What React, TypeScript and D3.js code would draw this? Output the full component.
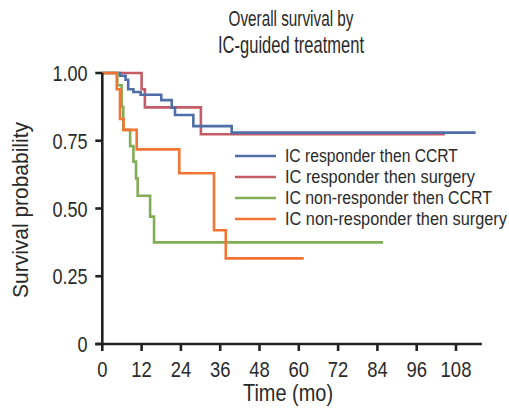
import React, { useLayoutEffect, useRef, useState } from "react";
import * as d3 from "d3";

// Kaplan-Meier step data: [time (months), survival]
const blueTimes = [0, 5.4, 7.1, 7.9, 9.5, 11.7, 18.0, 21.2, 22.2, 27.8, 39.5];
const blueSurv = [1.0, 0.99, 0.975, 0.94, 0.93, 0.92, 0.9, 0.872, 0.845, 0.804, 0.78];
const blueEnd = 114;

const redTimes = [0, 12.0, 13.0, 30.1];
const redSurv = [1.0, 0.94, 0.873, 0.774];
const redEnd = 104.6;

const greenTimes = [0, 4.6, 5.9, 6.4, 8.5, 9.5, 10.3, 10.8, 14.6, 15.8];
const greenSurv = [1.0, 0.955, 0.875, 0.79, 0.73, 0.673, 0.611, 0.547, 0.47, 0.375];
const greenEnd = 85.7;

const orangeTimes = [0, 4.4, 5.4, 6.5, 10.5, 23.5, 34.1, 37.7];
const orangeSurv = [1.0, 0.94, 0.83, 0.79, 0.718, 0.63, 0.42, 0.316];
const orangeEnd = 61.5;

const seriesNames = [
  "IC responder then CCRT",
  "IC responder then surgery",
  "IC non-responder then CCRT",
  "IC non-responder then surgery",
];
const seriesColors = ["#4f6da6", "#c45c68", "#82ad57", "#f47434"];
const legendWidths = [173, 190, 207, 222];

const xTicks = [0, 12, 24, 36, 48, 60, 72, 84, 96, 108];
const yTicks = [0, 0.25, 0.5, 0.75, 1.0];
const yTickLabels = ["0", "0.25", "0.50", "0.75", "1.00"];

const titleLines = ["Overall survival by", "IC-guided treatment"];
const titleWidths = [125, 146];

const FONT = "'Liberation Sans', Arial, sans-serif";
const TEXT = "#2a2a2a";

// Text drawn in a regular face, then horizontally scaled so its width
// matches the condensed face of the reference.
function NText(props: {
  x: number;
  y: number;
  size: number;
  anchor?: string;
  sx?: number;
  len?: number;
  rotate?: number;
  children: React.ReactNode;
}) {
  const { x, y, size, anchor = "start", sx = 0.82, len, rotate = 0, children } = props;
  const ref = useRef<SVGTextElement>(null);
  const [scale, setScale] = useState(sx);
  useLayoutEffect(() => {
    if (len && ref.current) {
      const natural = ref.current.getComputedTextLength();
      if (natural > 0) setScale(len / natural);
    }
  }, [len, children, size]);
  return (
    <g transform={`translate(${x},${y}) rotate(${rotate}) scale(${scale},1)`}>
      <text
        ref={ref}
        x={0}
        y={0}
        textAnchor={anchor}
        fontFamily={FONT}
        fontSize={size}
        fill={TEXT}
      >
        {children}
      </text>
    </g>
  );
}

export default function App() {
  const W = 509;
  const H = 411;
  const x = d3.scaleLinear().domain([0, 108]).range([102.3, 456]);
  const y = d3.scaleLinear().domain([0, 1]).range([344, 73]);
  const xMax = 115.9;

  const makeSeries = (t: number[], s: number[], end: number) => {
    const pts: [number, number][] = t.map((tt, i) => [tt, s[i]]);
    pts.push([end, s[s.length - 1]]);
    return pts;
  };
  const series = [
    makeSeries(blueTimes, blueSurv, blueEnd),
    makeSeries(redTimes, redSurv, redEnd),
    makeSeries(greenTimes, greenSurv, greenEnd),
    makeSeries(orangeTimes, orangeSurv, orangeEnd),
  ];
  const line = d3
    .line<[number, number]>()
    .x((d) => x(d[0]))
    .y((d) => y(d[1]))
    .curve(d3.curveStepAfter);

  const axisColor = "#222";
  const legendY = [156, 177, 198, 219];

  return (
    <svg
      width={W}
      height={H}
      style={{ position: "absolute", left: 0, top: 0, background: "#fff" }}
    >
      {/* title */}
      {titleLines.map((t, i) => (
        <NText key={t} x={291} y={26 + i * 27} size={23} anchor="middle" len={titleWidths[i]}>
          {t}
        </NText>
      ))}

      {/* curves */}
      {[1, 0, 2, 3].map((i) => (
        <path
          key={i}
          d={line(series[i]) || ""}
          fill="none"
          stroke={seriesColors[i]}
          strokeWidth={2.6}
        />
      ))}

      {/* axes */}
      <line x1={x(0)} x2={x(0)} y1={y(0)} y2={y(1)} stroke={axisColor} strokeWidth={2.6} />
      <line x1={x(0) - 7} x2={x(xMax)} y1={y(0)} y2={y(0)} stroke={axisColor} strokeWidth={2.6} />
      {yTicks.map((v, i) => (
        <g key={"y" + i}>
          <line x1={x(0) - 7} x2={x(0)} y1={y(v)} y2={y(v)} stroke={axisColor} strokeWidth={2.6} />
          <NText x={87.5} y={y(v) + 8} size={22} anchor="end" sx={0.82}>
            {yTickLabels[i]}
          </NText>
        </g>
      ))}
      {xTicks.map((v) => (
        <g key={"x" + v}>
          <line x1={x(v)} x2={x(v)} y1={y(0)} y2={y(0) + 7} stroke={axisColor} strokeWidth={2.6} />
          <NText x={x(v)} y={y(0) + 32.5} size={22.5} anchor="middle" sx={0.82}>
            {v}
          </NText>
        </g>
      ))}

      {/* axis titles */}
      <NText x={288} y={401} size={23} anchor="middle" len={90}>
        Time (mo)
      </NText>
      <NText x={28} y={210} size={21.5} anchor="middle" len={176} rotate={-90}>
        Survival probability
      </NText>

      {/* legend */}
      {seriesNames.map((n, i) => (
        <g key={n}>
          <line
            x1={235}
            x2={276}
            y1={legendY[i]}
            y2={legendY[i]}
            stroke={seriesColors[i]}
            strokeWidth={2.6}
          />
          <NText x={285} y={legendY[i] + 6} size={18.5} len={legendWidths[i]}>
            {n}
          </NText>
        </g>
      ))}
    </svg>
  );
}
